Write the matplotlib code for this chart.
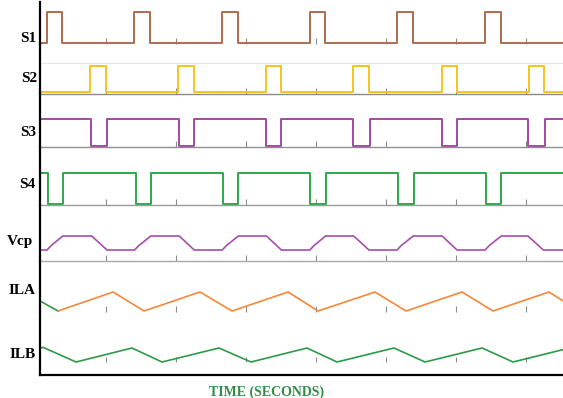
import matplotlib
matplotlib.use('Agg')
import matplotlib.pyplot as plt

# ---------------- data (time in microseconds) ----------------
t_start, t_end = 0.5, 60.2
tick_times = [8, 16, 24, 32, 40, 48, 56]

s1_t = [0.5, 1.30, 3.01, 11.23, 13.06, 21.28, 23.10, 31.32, 33.03, 41.25, 43.08, 51.30, 53.13, 60.3]
s1_v = [0, 1, 0, 1, 0, 1, 0, 1, 0, 1, 0, 1, 0, 0]

s2_t = [0.5, 6.21, 8.03, 16.25, 18.08, 26.30, 28.01, 36.23, 38.06, 46.39, 48.10, 56.32, 58.03, 60.3]
s2_v = [0, 1, 0, 1, 0, 1, 0, 1, 0, 1, 0, 1, 0, 0]

s3_t = [0.5, 6.32, 8.15, 16.37, 18.08, 26.30, 28.01, 36.23, 38.17, 46.39, 48.10, 56.20, 58.10, 60.3]
s3_v = [1, 0, 1, 0, 1, 0, 1, 0, 1, 0, 1, 0, 1, 1]

s4_t = [0.5, 1.41, 3.13, 11.46, 13.17, 21.40, 23.10, 31.32, 33.15, 41.37, 43.20, 51.41, 53.13, 60.3]
s4_v = [1, 0, 1, 0, 1, 0, 1, 0, 1, 0, 1, 0, 1, 1]

vcp_t = [0.5, 1.30, 1.75, 3.10, 6.40, 8.15,
         11.30, 11.75, 13.15, 16.40, 18.10,
         21.30, 21.75, 23.15, 26.35, 28.05,
         31.30, 31.75, 33.10, 36.30, 38.05,
         41.25, 41.70, 43.10, 46.40, 48.10,
         51.30, 51.75, 53.15, 56.20, 57.95, 60.3]
vcp_v = [0, 0, 0.3, 1, 1, 0,
         0, 0.3, 1, 1, 0,
         0, 0.3, 1, 1, 0,
         0, 0.3, 1, 1, 0,
         0, 0.3, 1, 1, 0,
         0, 0.3, 1, 1, 0, 0]

ila_t = [0.5, 2.55, 8.85, 12.37, 18.76, 22.42, 28.81, 32.24, 38.74, 42.28, 48.67, 52.21, 58.60, 60.3]
ila_v = [2.53, 2.0, 3.0, 2.0, 3.0, 2.0, 3.0, 2.0, 3.0, 2.0, 3.0, 2.0, 3.0, 2.51]

ilb_t = [0.5, 0.84, 4.61, 11.00, 14.43, 20.93, 24.59, 30.98, 34.40, 40.91, 44.45, 50.96, 54.50, 60.3]
ilb_v = [2.98, 3.05, 2.0, 3.0, 2.0, 3.0, 2.0, 3.0, 2.0, 3.0, 2.0, 3.0, 2.0, 2.90]

labels = ['S1', 'S2', 'S3', 'S4', 'Vcp', 'ILA', 'ILB']
xlabel = 'TIME (SECONDS)'

# ---------------- layout ----------------
W, H = 563, 398
fig = plt.figure(figsize=(W / 100, H / 100), dpi=100)
x0 = 40

# (top px, bottom px, px of low value, px of high value, low value, high value)
rows = [
    (2, 44, 43.2, 12, 0, 1),
    (44, 94, 92, 66, 0, 1),
    (94, 147, 146, 119, 0, 1),
    (147, 205, 204, 173, 0, 1),
    (205, 261, 250, 236, 0, 1),
    (261, 312, 311, 292, 2.0, 3.0),
    (312, 375, 362, 348, 2.0, 3.0),
]
label_y = [38, 79, 133, 185, 242, 290, 355]
label_x = [36, 37, 36, 35, 33, 36, 36]

axes = []
for (top, bot, plo, phi, vlo, vhi) in rows:
    ax = fig.add_axes([x0 / W, 1 - bot / H, (W - x0) / W, (bot - top) / H])
    s = (plo - phi) / (vhi - vlo)
    ax.set_ylim(vlo - (bot - plo) / s, vhi + (phi - top) / s)
    ax.set_xlim(t_start, t_end)
    ax.set_facecolor('none')
    for sp in ('top', 'right', 'bottom'):
        ax.spines[sp].set_visible(False)
    ax.spines['left'].set_color('black')
    ax.spines['left'].set_linewidth(1.6)
    ax.set_yticks([])
    ax.set_xticks(tick_times)
    ax.tick_params(axis='x', direction='in', length=4.3, width=0.8,
                   color='#8c8c8c', labelbottom=False)
    axes.append(ax)

a1, a2, a3, a4, a5, a6, a7 = axes

# light separator between S1 and S2 rows (63 px)
a2.axhline(1 + 3 / 26, color='#e6e6e6', lw=0.8, zorder=0)
for a, c in ((a2, '#8a8a8a'), (a3, '#8f8f8f'), (a4, '#9a9a9a'), (a5, '#a8a8a8')):
    a.spines['bottom'].set_visible(True)
    a.spines['bottom'].set_color(c)
    a.spines['bottom'].set_linewidth(1.0)
a7.spines['bottom'].set_visible(True)
a7.spines['bottom'].set_color('black')
a7.spines['bottom'].set_linewidth(1.6)
a7.tick_params(axis='x', length=0)
a7.vlines(tick_times, 0.206, 0.286, transform=a7.get_xaxis_transform(),
          color='#8c8c8c', lw=0.8)

lw = 1.4
a1.step(s1_t, s1_v, where='post', color='#b06a4f', lw=lw)
a2.step(s2_t, s2_v, where='post', color='#f7c41c', lw=lw)
a3.step(s3_t, s3_v, where='post', color='#a349a4', lw=lw)
a4.step(s4_t, s4_v, where='post', color='#2ea84b', lw=lw)
a5.plot(vcp_t, vcp_v, color='#a64dae', lw=1.2)
a6.plot(ila_t[:2], ila_v[:2], color='#2e9a48', lw=1.2)
a6.plot(ila_t[1:], ila_v[1:], color='#f5883a', lw=1.2)
a7.plot(ilb_t, ilb_v, color='#2e9a48', lw=1.2)

for lab, ly, lx in zip(labels, label_y, label_x):
    fig.text(lx / W, 1 - ly / H, lab, ha='right', va='center',
             fontfamily='Liberation Serif', fontweight='bold', fontsize=11)

fig.text(267 / W, 1 - 392 / H, xlabel, ha='center', va='center',
         color='#2f8f45', fontfamily='Liberation Serif', fontweight='bold', fontsize=10)

fig.savefig('out.png', dpi=100)
